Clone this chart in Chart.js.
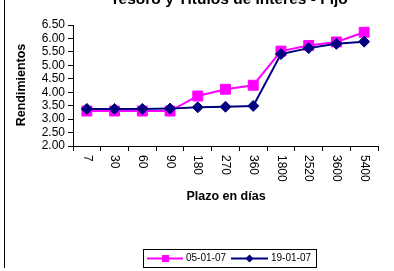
<!DOCTYPE html>
<html>
<head>
<meta charset="utf-8">
<script src="https://cdn.jsdelivr.net/npm/chart.js"></script>
<style>
  html, body { margin: 0; padding: 0; background: #fff; }
  #wrap { width: 394px; height: 271px; position: relative; }
</style>
</head>
<body>
<div id="wrap"><canvas id="chart" width="394" height="271"></canvas></div>
<script>
// datos
const plazos = ['7', '30', '60', '90', '180', '270', '360', '1800', '2520', '3600', '5400'];
const serie0501 = [3.30, 3.30, 3.30, 3.30, 3.86, 4.11, 4.26, 5.53, 5.74, 5.87, 6.23];
const serie1901 = [3.38, 3.38, 3.38, 3.39, 3.44, 3.46, 3.49, 5.42, 5.64, 5.80, 5.88];
const nombres = ['05-01-07', '19-01-07'];
const yMin = 2.0, yMax = 6.5, yStep = 0.5;

const FONT = '"Liberation Sans", Arial, sans-serif';
const PINK = '#FF00FF';
const NAVY = '#000080';

// textos y leyenda dibujados a mano (etiquetas giradas en sentido horario)
const extras = {
    id: 'extras',
    afterDraw(chart) {
        const ctx = chart.ctx;
        const xs = chart.scales.x;
        ctx.save();

        // borde izquierdo
        ctx.strokeStyle = '#000';
        ctx.lineWidth = 1;
        ctx.beginPath();
        ctx.moveTo(4.5, 0);
        ctx.lineTo(4.5, 268);
        ctx.stroke();

        // titulo (cortado arriba)
        ctx.fillStyle = '#000';
        ctx.font = 'bold 15.5px ' + FONT;
        ctx.textAlign = 'center';
        ctx.textBaseline = 'alphabetic';
        ctx.fillText('Tesoro y Títulos de Interés - Fijo', 229, 4);

        // etiquetas eje x
        ctx.font = '12px ' + FONT;
        plazos.forEach((p, i) => {
            const x = xs.getPixelForValue(i);
            ctx.save();
            ctx.translate(x, 155);
            ctx.rotate(Math.PI / 2);
            ctx.textAlign = 'left';
            ctx.textBaseline = 'middle';
            ctx.fillText(p, 0, 0);
            ctx.restore();
        });

        // titulos de ejes
        ctx.font = 'bold 12.5px ' + FONT;
        ctx.textAlign = 'center';
        ctx.textBaseline = 'middle';
        ctx.fillText('Plazo en días', 226, 197);
        ctx.save();
        ctx.translate(22, 85);
        ctx.rotate(-Math.PI / 2);
        ctx.fillText('Rendimientos', 0, 0);
        ctx.restore();

        // leyenda
        ctx.strokeStyle = '#000';
        ctx.lineWidth = 1;
        ctx.strokeRect(143.5, 249.5, 173, 18);
        ctx.font = '10px ' + FONT;
        ctx.textAlign = 'left';
        ctx.textBaseline = 'middle';
        const ly = 258.5;
        // 05-01-07
        ctx.strokeStyle = PINK;
        ctx.lineWidth = 2;
        ctx.beginPath(); ctx.moveTo(147, ly); ctx.lineTo(183, ly); ctx.stroke();
        ctx.fillStyle = PINK;
        ctx.fillRect(162, ly - 3.5, 7, 7);
        ctx.fillStyle = '#000';
        ctx.fillText(nombres[0], 186, ly);
        // 19-01-07
        ctx.strokeStyle = NAVY;
        ctx.beginPath(); ctx.moveTo(231, ly); ctx.lineTo(268, ly); ctx.stroke();
        ctx.fillStyle = NAVY;
        ctx.beginPath();
        ctx.moveTo(249.5, ly - 4); ctx.lineTo(253.5, ly); ctx.lineTo(249.5, ly + 4); ctx.lineTo(245.5, ly);
        ctx.closePath(); ctx.fill();
        ctx.fillStyle = '#000';
        ctx.fillText(nombres[1], 271, ly);

        ctx.restore();
    }
};

new Chart(document.getElementById('chart').getContext('2d'), {
    type: 'line',
    data: {
        labels: plazos,
        datasets: [
            {
                label: nombres[0],
                data: serie0501,
                borderColor: PINK,
                backgroundColor: PINK,
                borderWidth: 2,
                pointStyle: 'rect',
                pointRadius: 7,
                pointBorderWidth: 1,
                tension: 0,
                order: 1
            },
            {
                label: nombres[1],
                data: serie1901,
                borderColor: NAVY,
                backgroundColor: NAVY,
                borderWidth: 2,
                pointStyle: 'rectRot',
                pointRadius: 5.5,
                pointBorderWidth: 1,
                tension: 0,
                order: 0
            }
        ]
    },
    options: {
        responsive: false,
        animation: false,
        layout: { padding: { left: 0, right: 16, top: 25, bottom: 0 } },
        plugins: {
            legend: { display: false },
            tooltip: { enabled: false },
            title: { display: false }
        },
        scales: {
            x: {
                offset: true,
                grid: { display: true, offset: true, drawOnChartArea: false, color: '#000', tickLength: 5 },
                border: { display: true, color: '#000', width: 1 },
                ticks: { display: false },
                afterFit: (s) => { s.height = 125; }
            },
            y: {
                min: yMin,
                max: yMax,
                grid: { display: true, drawOnChartArea: false, color: '#000', tickLength: 5 },
                border: { display: true, color: '#000', width: 1 },
                ticks: {
                    stepSize: yStep,
                    autoSkip: false,
                    color: '#000',
                    padding: 3,
                    font: { family: FONT, size: 12 },
                    callback: (v) => Number(v).toFixed(2)
                },
                afterFit: (s) => { s.width = 73; }
            }
        }
    },
    plugins: [extras]
});
</script>
</body>
</html>
